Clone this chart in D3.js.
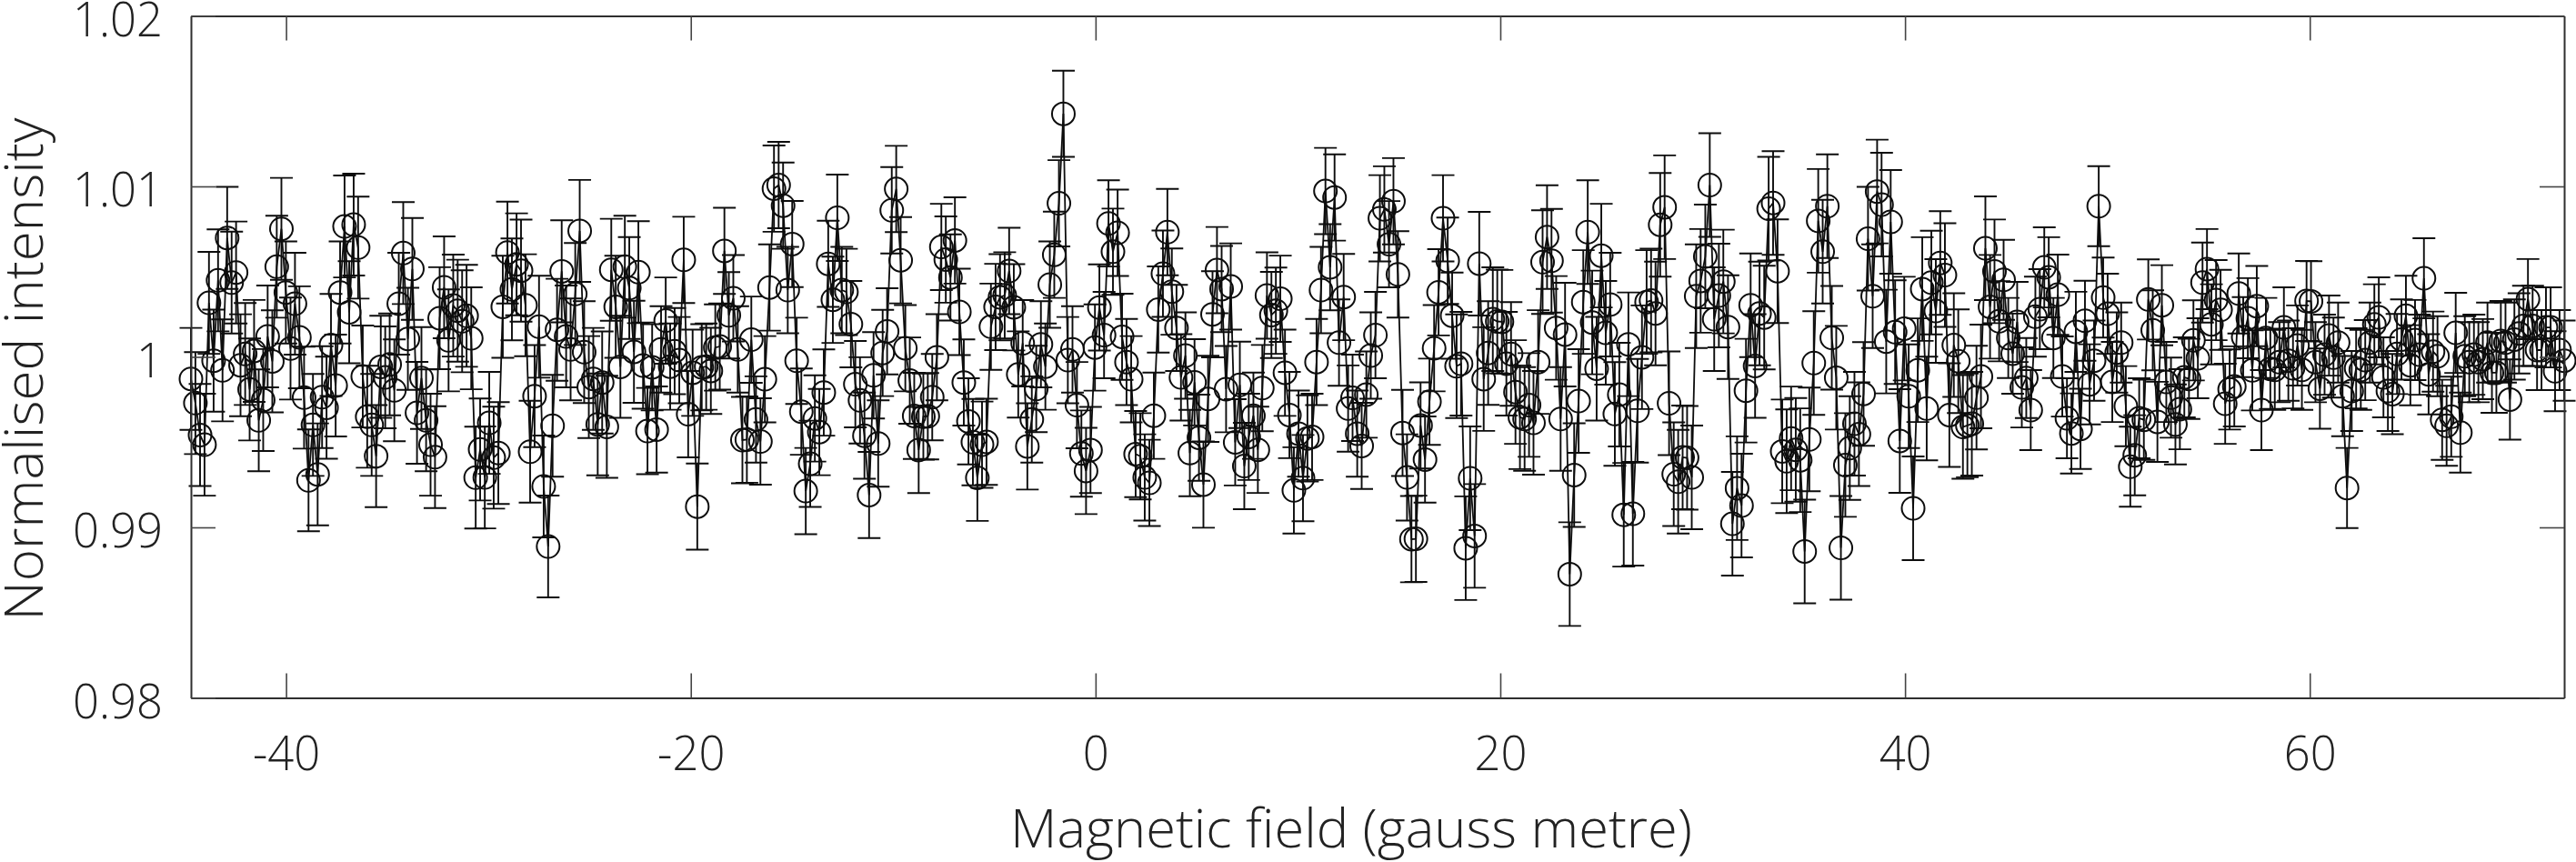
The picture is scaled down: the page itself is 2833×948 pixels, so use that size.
<!DOCTYPE html>
<html>
<head>
<meta charset="utf-8">
<script src="https://cdn.jsdelivr.net/npm/d3@7/dist/d3.min.js"></script>
<style>
html,body{margin:0;padding:0;background:#fff;}
svg{display:block;}
text{font-family:"Open Sans",Lato,sans-serif;font-weight:300;fill:#222;}
</style>
</head>
<body>
<svg id="chart" width="2833" height="948"></svg>
<script>
// Magnetic field, gauss metre (one value per measured point)
const field = [
-44.70,-44.48,-44.25,-44.03,-43.81,-43.58,-43.36,-43.14,-42.91,-42.69,
-42.47,-42.25,-42.02,-41.80,-41.58,-41.35,-41.13,-40.91,-40.68,-40.46,
-40.23,-40.01,-39.78,-39.56,-39.34,-39.11,-38.89,-38.67,-38.44,-38.22,
-38.00,-37.78,-37.55,-37.33,-37.11,-36.88,-36.66,-36.44,-36.21,-35.99,
-35.77,-35.55,-35.32,-35.10,-34.88,-34.65,-34.43,-34.21,-33.98,-33.76,
-33.53,-33.31,-33.08,-32.86,-32.64,-32.41,-32.19,-31.97,-31.74,-31.52,
-31.30,-31.08,-30.85,-30.63,-30.41,-30.18,-29.96,-29.74,-29.51,-29.29,
-29.06,-28.84,-28.61,-28.39,-28.17,-27.94,-27.72,-27.50,-27.27,-27.05,
-26.83,-26.61,-26.38,-26.16,-25.94,-25.71,-25.49,-25.27,-25.04,-24.82,
-24.60,-24.38,-24.15,-23.93,-23.71,-23.48,-23.26,-23.04,-22.81,-22.59,
-22.36,-22.14,-21.91,-21.69,-21.47,-21.24,-21.02,-20.80,-20.57,-20.35,
-20.13,-19.91,-19.68,-19.46,-19.24,-19.01,-18.79,-18.57,-18.34,-18.12,
-17.90,-17.68,-17.45,-17.23,-17.01,-16.78,-16.56,-16.34,-16.11,-15.89,
-15.66,-15.44,-15.21,-14.99,-14.77,-14.54,-14.32,-14.10,-13.87,-13.65,
-13.43,-13.21,-12.98,-12.76,-12.54,-12.31,-12.09,-11.87,-11.64,-11.42,
-11.19,-10.97,-10.74,-10.52,-10.30,-10.07,-9.85,-9.63,-9.40,-9.18,
-8.96,-8.74,-8.51,-8.29,-8.07,-7.84,-7.62,-7.40,-7.17,-6.95,
-6.73,-6.51,-6.28,-6.06,-5.84,-5.61,-5.39,-5.17,-4.94,-4.72,
-4.49,-4.27,-4.04,-3.82,-3.60,-3.37,-3.15,-2.93,-2.70,-2.48,
-2.26,-2.04,-1.81,-1.59,-1.37,-1.14,-0.92,-0.70,-0.47,-0.25,
-0.03,0.19,0.42,0.64,0.86,1.09,1.31,1.53,1.76,1.98,
2.21,2.43,2.66,2.88,3.10,3.33,3.55,3.77,4.00,4.22,
4.44,4.66,4.89,5.11,5.33,5.56,5.78,6.00,6.23,6.45,
6.68,6.90,7.13,7.35,7.57,7.80,8.02,8.24,8.47,8.69,
8.91,9.13,9.36,9.58,9.80,10.03,10.25,10.47,10.70,10.92,
11.14,11.36,11.59,11.81,12.03,12.26,12.48,12.70,12.93,13.15,
13.38,13.60,13.83,14.05,14.27,14.50,14.72,14.94,15.17,15.39,
15.61,15.83,16.06,16.28,16.50,16.73,16.95,17.17,17.40,17.62,
17.84,18.06,18.29,18.51,18.73,18.96,19.18,19.40,19.63,19.85,
20.08,20.30,20.53,20.75,20.97,21.20,21.42,21.64,21.87,22.09,
22.31,22.53,22.76,22.98,23.20,23.43,23.65,23.87,24.10,24.32,
24.54,24.76,24.99,25.21,25.43,25.66,25.88,26.10,26.33,26.55,
26.78,27.00,27.23,27.45,27.67,27.90,28.12,28.34,28.57,28.79,
29.01,29.23,29.46,29.68,29.90,30.13,30.35,30.57,30.80,31.02,
31.25,31.47,31.70,31.92,32.14,32.37,32.59,32.81,33.04,33.26,
33.48,33.70,33.93,34.15,34.37,34.60,34.82,35.04,35.27,35.49,
35.71,35.93,36.16,36.38,36.60,36.83,37.05,37.27,37.50,37.72,
37.95,38.17,38.40,38.62,38.84,39.07,39.29,39.51,39.74,39.96,
40.18,40.40,40.63,40.85,41.07,41.30,41.52,41.74,41.97,42.19,
42.41,42.63,42.86,43.08,43.30,43.53,43.75,43.97,44.20,44.42,
44.65,44.87,45.10,45.32,45.54,45.77,45.99,46.21,46.44,46.66,
46.88,47.10,47.33,47.55,47.77,48.00,48.22,48.44,48.67,48.89,
49.12,49.34,49.57,49.79,50.01,50.24,50.46,50.68,50.91,51.13,
51.35,51.57,51.80,52.02,52.24,52.47,52.69,52.91,53.14,53.36,
53.58,53.80,54.03,54.25,54.47,54.70,54.92,55.14,55.37,55.59,
55.82,56.04,56.27,56.49,56.71,56.94,57.16,57.38,57.61,57.83,
58.05,58.27,58.50,58.72,58.94,59.17,59.39,59.61,59.84,60.06,
60.28,60.50,60.73,60.95,61.17,61.40,61.62,61.84,62.07,62.29,
62.52,62.74,62.97,63.19,63.41,63.64,63.86,64.08,64.31,64.53,
64.75,64.97,65.20,65.42,65.64,65.87,66.09,66.31,66.54,66.76,
66.99,67.21,67.44,67.66,67.88,68.11,68.33,68.55,68.78,69.00,
69.22,69.44,69.67,69.89,70.11,70.34,70.56,70.78,71.01,71.23,
71.45,71.67,71.90,72.12,72.34,72.57
];
// Normalised intensity
const intensity = [
0.99871,0.99729,0.99542,0.99485,1.00317,0.99978,1.00449,0.99921,1.00698,1.00436,
1.00495,0.99951,1.00017,0.99809,1.00035,0.99628,0.99747,1.00120,0.99974,1.00529,
1.00751,1.00378,1.00049,1.00312,1.00115,0.99761,0.99276,0.99601,0.99311,0.99764,
0.99702,1.00070,0.99832,1.00378,1.00765,1.00262,1.00776,1.00641,0.99885,0.99649,
0.99601,0.99418,0.99942,0.99880,0.99956,0.99804,1.00312,1.00609,1.00106,1.00516,
0.99672,0.99876,0.99628,0.99485,0.99412,1.00227,1.00408,1.00097,1.00301,1.00271,
1.00209,1.00241,1.00109,0.99292,0.99457,0.99293,0.99613,0.99409,0.99436,1.00294,
1.00612,1.00396,1.00543,1.00506,1.00303,0.99444,0.99770,1.00177,0.99240,0.98888,
0.99596,1.00159,1.00502,1.00120,1.00044,1.00369,1.00739,1.00028,0.99823,0.99871,
0.99604,0.99850,0.99590,1.00511,1.00294,0.99942,1.00529,1.00404,1.00030,1.00497,
0.99949,0.99565,0.99939,0.99574,1.00044,1.00213,0.99943,1.00034,0.99981,1.00569,
0.99664,0.99907,0.99122,0.99939,0.99943,0.99918,1.00055,1.00061,1.00622,1.00244,
1.00344,1.00044,0.99512,0.99515,1.00101,0.99633,0.99504,0.99869,1.00407,1.00987,
1.01008,1.00887,1.00392,1.00662,0.99977,0.99679,0.99213,0.99373,0.99639,0.99559,
0.99791,1.00546,1.00335,1.00816,1.00392,1.00381,1.00192,0.99840,0.99745,0.99538,
0.99190,0.99892,0.99492,1.00023,1.00150,1.00860,1.00985,1.00567,1.00051,0.99861,
0.99654,0.99454,0.99650,0.99652,0.99764,0.99998,1.00645,1.00571,1.00466,1.00683,
1.00264,0.99850,0.99622,0.99500,0.99291,0.99485,0.99502,1.00177,1.00293,1.00350,
1.00361,1.00504,1.00291,0.99897,1.00080,0.99475,0.99633,0.99812,1.00074,0.99943,
1.00424,1.00599,1.00901,1.01426,0.99981,1.00044,0.99717,0.99433,0.99331,0.99454,
1.00055,1.00290,1.00128,1.00783,1.00617,1.00728,1.00118,0.99970,0.99869,0.99430,
0.99417,0.99293,0.99261,0.99655,1.00278,1.00488,1.00732,1.00383,1.00170,0.99880,
1.00008,0.99436,0.99851,0.99526,0.99251,0.99754,1.00250,1.00509,1.00398,0.99811,
1.00413,0.99499,0.99836,0.99360,0.99531,0.99655,0.99455,0.99817,1.00360,1.00246,
1.00271,1.00341,0.99907,0.99659,0.99217,0.99550,0.99289,0.99522,0.99531,0.99970,
1.00392,1.00973,1.00526,1.00935,1.00084,1.00351,0.99697,0.99760,0.99550,0.99478,
0.99779,1.00008,1.00128,1.00813,1.00865,1.00661,1.00913,1.00484,0.99554,0.99293,
0.98931,0.98933,0.99598,0.99398,0.99737,1.00051,1.00379,1.00813,1.00564,1.00242,
0.99945,0.99960,0.98878,0.99288,0.98950,1.00547,0.99870,1.00023,1.00221,1.00208,
1.00206,0.99960,1.00017,0.99794,0.99646,0.99636,0.99718,0.99613,0.99970,1.00556,
1.00703,1.00564,1.00170,0.99636,1.00131,0.98726,0.99307,0.99741,1.00322,1.00732,
1.00202,0.99931,1.00594,1.00141,1.00307,0.99665,0.99779,0.99074,1.00074,0.99080,
0.99684,0.99998,1.00322,1.00331,1.00255,1.00775,1.00878,0.99728,0.99312,0.99268,
0.99411,0.99408,0.99293,1.00356,1.00446,1.00589,1.01008,1.00221,1.00360,1.00442,
1.00175,0.99021,0.99230,0.99128,0.99802,1.00303,0.99947,1.00255,1.00231,1.00869,
1.00903,1.00503,0.99446,0.99388,0.99522,0.99455,0.99394,0.98859,0.99516,0.99964,
1.00798,1.00617,1.00884,1.00112,0.99878,0.98880,0.99366,0.99465,0.99608,0.99547,
0.99783,1.00693,1.00356,1.00970,1.00893,1.00090,1.00792,1.00145,0.99507,1.00166,
0.99769,0.99112,0.99922,1.00398,0.99697,1.00436,1.00269,1.00551,1.00480,0.99659,
1.00069,0.99975,0.99589,0.99598,0.99608,0.99761,0.99885,1.00637,1.00294,1.00502,
1.00209,1.00452,1.00111,1.00019,1.00205,0.99821,0.99876,0.99688,1.00236,1.00280,
1.00525,1.00467,1.00111,1.00365,0.99885,0.99640,0.99551,1.00147,0.99578,1.00212,
0.99839,0.99978,1.00884,1.00348,1.00253,0.99853,1.00026,1.00084,0.99711,0.99356,
0.99423,0.99640,0.99631,1.00337,1.00156,0.99619,1.00303,0.99853,0.99761,0.99604,
0.99693,0.99880,0.99871,1.00097,0.99992,1.00436,1.00515,1.00191,1.00333,1.00276,
0.99725,0.99809,0.99827,1.00372,1.00116,1.00227,0.99921,1.00298,0.99688,1.00111,
0.99930,0.99924,0.99969,1.00173,0.99978,0.99933,1.00067,0.99924,1.00328,1.00326,
0.99969,0.99814,1.00013,1.00125,0.99996,1.00084,0.99770,0.99231,0.99800,0.99933,
0.99924,0.99981,1.00084,1.00191,1.00232,0.99880,0.99800,0.99782,1.00017,1.00102,
1.00241,0.99951,1.00099,1.00013,1.00461,0.99898,1.00031,1.00004,0.99631,0.99596,
0.99649,1.00141,0.99556,1.00004,0.99969,1.00013,0.99969,0.99987,1.00084,0.99907,
0.99907,1.00093,1.00084,0.99750,1.00102,1.00138,1.00182,1.00339,1.00182,1.00040,
1.00040,1.00173,1.00173,0.99916,1.00040,0.99978
];
// Error bar half-height, as read for successive runs of the scan
const errorRunLastField = [-22.59, 17.62, 44.42, 72.57];
const errorRunValue = [0.00299, 0.00253, 0.00304, 0.00235];

const xTickValues = [-40, -20, 0, 20, 40, 60];
const xTickLabels = ["-40", "-20", "0", "20", "40", "60"];
const yTickValues = [0.98, 0.99, 1, 1.01, 1.02];
const yTickLabels = ["0.98", "0.99", "1", "1.01", "1.02"];
const xTitle = "Magnetic field (gauss metre)";
const yTitle = "Normalised intensity";

const L = 210, R = 2820, T = 17.5, B = 767.5, TICK = 27, CAP = 12.5, RAD = 12.5;
const x = d3.scaleLinear().domain([-44.70, 72.57]).range([L, R]);
const y = d3.scaleLinear().domain([0.98, 1.02]).range([B, T]);
const svg = d3.select("#chart");

const points = field.map((f, i) => ({
  f, v: intensity[i],
  e: errorRunValue[Math.min(d3.bisectLeft(errorRunLastField, f), errorRunValue.length - 1)]
}));

// connecting line
svg.append("path").datum(points)
  .attr("fill", "none").attr("stroke", "#0d0d0d").attr("stroke-width", 1.8)
  .attr("d", d3.line().x(d => x(d.f)).y(d => y(d.v)));

// error bars
const eb = svg.append("g").attr("stroke", "#0d0d0d").attr("stroke-width", 1.9).attr("fill", "none");
eb.selectAll("path").data(points).join("path")
  .attr("d", d => {
    const px = x(d.f), a = y(d.v + d.e), b = y(d.v - d.e);
    return `M${px},${a}V${b}M${px - CAP},${a}H${px + CAP}M${px - CAP},${b}H${px + CAP}`;
  });

// markers
svg.append("g").attr("fill", "none").attr("stroke", "#0d0d0d").attr("stroke-width", 2)
  .selectAll("circle").data(points).join("circle")
  .attr("cx", d => x(d.f)).attr("cy", d => y(d.v)).attr("r", RAD);

// axes
function style(g) {
  g.selectAll(".domain").attr("stroke", "#2f2f2f").attr("stroke-width", 2);
  g.selectAll(".tick line").attr("stroke", "#444").attr("stroke-width", 1.6);
}
const bottom = svg.append("g").attr("transform", `translate(0,${B})`)
  .call(d3.axisBottom(x).tickValues(xTickValues).tickSizeInner(-TICK).tickSizeOuter(0)
    .tickPadding(40).tickFormat((d, i) => xTickLabels[i])).call(style);
svg.append("g").attr("transform", `translate(0,${T})`)
  .call(d3.axisTop(x).tickValues(xTickValues).tickSizeInner(-TICK).tickSizeOuter(0)
    .tickFormat("")).call(style);
const left = svg.append("g").attr("transform", `translate(${L},0)`)
  .call(d3.axisLeft(y).tickValues(yTickValues).tickSizeInner(-TICK).tickSizeOuter(0)
    .tickPadding(31).tickFormat((d, i) => yTickLabels[i])).call(style);
svg.append("g").attr("transform", `translate(${R},0)`)
  .call(d3.axisRight(y).tickValues(yTickValues).tickSizeInner(-TICK).tickSizeOuter(0)
    .tickFormat("")).call(style);

bottom.selectAll("text").attr("font-size", 54).attr("dy", null).attr("y", 79.5)
  .style("font-family", '"Open Sans"').attr("fill", "#222");
left.selectAll("text").attr("font-size", 54).attr("dy", "0.4em").attr("fill", "#222");
// the reference digits are set a little narrower than the installed face
bottom.selectAll("text").each(function () {
  d3.select(this).attr("textLength", this.getComputedTextLength() * 0.94).attr("lengthAdjust", "spacingAndGlyphs");
});
left.selectAll("text").each(function () {
  d3.select(this).attr("textLength", this.getComputedTextLength() * 0.94).attr("lengthAdjust", "spacingAndGlyphs");
});

svg.append("text").attr("x", 1486).attr("y", 932).attr("text-anchor", "middle")
  .attr("font-size", 58).attr("textLength", 750).attr("lengthAdjust", "spacingAndGlyphs")
  .text(xTitle);
svg.append("text").attr("transform", "translate(47,406) rotate(-90)").attr("text-anchor", "middle")
  .attr("font-size", 58).attr("textLength", 553).attr("lengthAdjust", "spacingAndGlyphs")
  .text(yTitle);
</script>
</body>
</html>
